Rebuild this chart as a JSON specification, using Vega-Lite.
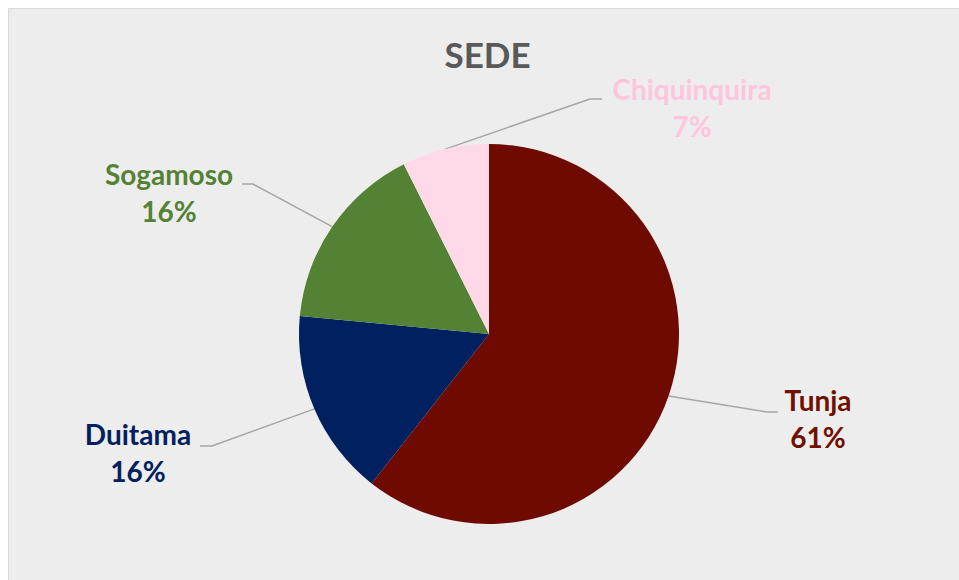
{
  "$schema": "https://vega.github.io/schema/vega-lite/v6.json",
  "autosize": {"type": "none"},
  "padding": {"left": 8, "top": 8, "right": 0, "bottom": 0},
  "width": 951,
  "height": 572,
  "background": "#FFFFFF",
  "config": {"view": {"fill": "#EDEDED", "stroke": "transparent", "strokeWidth": 0}},
  "title": {"text": "SEDE", "font": "Lato", "fontSize": 35, "fontWeight": "bold", "color": "#595959", "anchor": "middle", "frame": "group", "baseline": "alphabetic", "offset": -95, "dx": 4},
  "data": {"values": [
    {"sede": "Tunja", "valor": 60.6, "n": 1},
    {"sede": "Duitama", "valor": 15.9, "n": 2},
    {"sede": "Sogamoso", "valor": 16.1, "n": 3},
    {"sede": "Chiquinquira", "valor": 7.4, "n": 4}
  ]},
  "transform": [
    {"joinaggregate": [{"op": "sum", "field": "valor", "as": "total"}]},
    {"window": [{"op": "sum", "field": "valor", "as": "acum"}], "sort": [{"field": "n", "order": "ascending"}], "frame": [null, 0]},
    {"calculate": "datum.valor / datum.total", "as": "pct"},
    {"calculate": "2 * PI * (datum.acum - datum.valor / 2) / datum.total", "as": "ang"},
    {"calculate": "190 * sin(datum.ang)", "as": "sx"},
    {"calculate": "-190 * cos(datum.ang)", "as": "sy"},
    {"calculate": "{'Tunja': 278, 'Duitama': -277, 'Sogamoso': -236, 'Chiquinquira': 101}[datum.sede]", "as": "ex"},
    {"calculate": "{'Tunja': 78, 'Duitama': 112, 'Sogamoso': -150, 'Chiquinquira': -235}[datum.sede]", "as": "ey"},
    {"calculate": "{'Tunja': 289, 'Duitama': -289, 'Sogamoso': -247, 'Chiquinquira': 113}[datum.sede]", "as": "lx"},
    {"calculate": "{'Tunja': 329, 'Duitama': -351, 'Sogamoso': -320, 'Chiquinquira': 203}[datum.sede]", "as": "tx"},
    {"calculate": "{'Tunja': 69, 'Duitama': 103, 'Sogamoso': -157, 'Chiquinquira': -242}[datum.sede]", "as": "ty"}
  ],
  "layer": [
    {
      "mark": {"type": "rule", "color": "#A6A6A6", "strokeWidth": 1.5},
      "encoding": {
        "x": {"field": "sx", "type": "quantitative", "scale": {"domain": [-481, 470], "nice": false, "zero": false},
          "axis": {"orient": "top", "domainColor": "#D9D9D9", "domainWidth": 1, "ticks": false, "labels": false, "grid": false, "title": null}},
        "y": {"field": "sy", "type": "quantitative", "scale": {"domain": [-326, 246], "nice": false, "zero": false, "reverse": true},
          "axis": {"orient": "left", "domainColor": "#D9D9D9", "domainWidth": 1, "ticks": false, "labels": false, "grid": false, "title": null}},
        "x2": {"field": "ex"},
        "y2": {"field": "ey"}
      }
    },
    {
      "mark": {"type": "rule", "color": "#A6A6A6", "strokeWidth": 1.5},
      "encoding": {
        "x": {"field": "ex", "type": "quantitative", "scale": {"domain": [-481, 470], "nice": false, "zero": false}},
        "y": {"field": "ey", "type": "quantitative", "scale": {"domain": [-326, 246], "nice": false, "zero": false, "reverse": true}},
        "x2": {"field": "lx"}
      }
    },
    {
      "mark": {"type": "arc", "radius": 190},
      "encoding": {
        "theta": {"field": "valor", "type": "quantitative", "stack": true},
        "order": {"field": "n", "type": "quantitative"},
        "color": {"field": "sede", "type": "nominal", "legend": null,
          "scale": {"domain": ["Tunja", "Duitama", "Sogamoso", "Chiquinquira"], "range": ["#6E0A00", "#002060", "#548235", "#FFD9E8"]}},
        "x": {"datum": 0, "type": "quantitative", "scale": {"domain": [-481, 470], "nice": false, "zero": false}},
        "y": {"datum": 0, "type": "quantitative", "scale": {"domain": [-326, 246], "nice": false, "zero": false, "reverse": true}}
      }
    },
    {
      "mark": {"type": "text", "font": "Lato", "fontSize": 28, "fontWeight": "bold", "align": "center", "baseline": "middle"},
      "encoding": {
        "x": {"field": "tx", "type": "quantitative", "scale": {"domain": [-481, 470], "nice": false, "zero": false}},
        "y": {"field": "ty", "type": "quantitative", "scale": {"domain": [-326, 246], "nice": false, "zero": false, "reverse": true}},
        "text": {"field": "sede", "type": "nominal"},
        "fill": {"field": "sede", "type": "nominal", "legend": null,
          "scale": {"domain": ["Tunja", "Duitama", "Sogamoso", "Chiquinquira"], "range": ["#701000", "#002060", "#548235", "#FFC5DD"]}}
      }
    },
    {
      "mark": {"type": "text", "font": "Lato", "fontSize": 28, "fontWeight": "bold", "align": "center", "baseline": "middle", "dy": 37},
      "encoding": {
        "x": {"field": "tx", "type": "quantitative", "scale": {"domain": [-481, 470], "nice": false, "zero": false}},
        "y": {"field": "ty", "type": "quantitative", "scale": {"domain": [-326, 246], "nice": false, "zero": false, "reverse": true}},
        "text": {"field": "pct", "type": "quantitative", "format": ".0%"},
        "fill": {"field": "sede", "type": "nominal", "legend": null}
      }
    }
  ]
}
